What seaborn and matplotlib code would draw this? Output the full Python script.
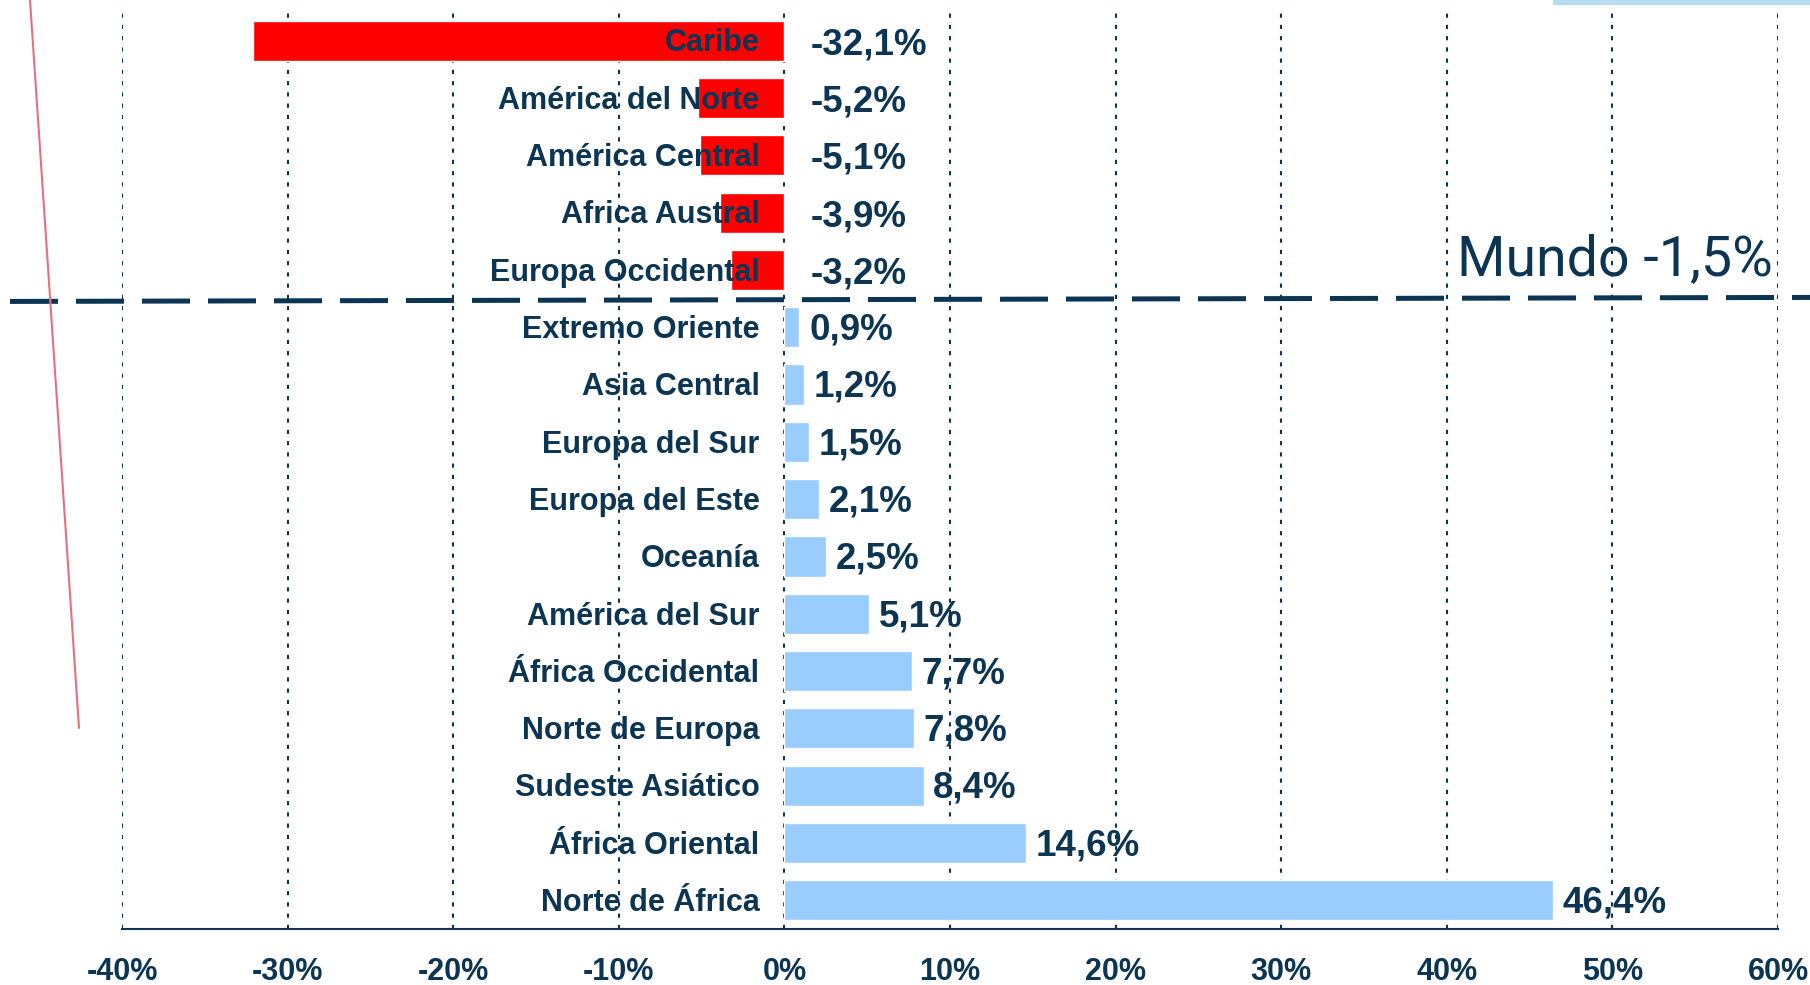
import matplotlib
matplotlib.use("Agg")
import matplotlib.pyplot as plt
import matplotlib.transforms as mtransforms
from matplotlib.lines import Line2D
from matplotlib.patches import Rectangle
import seaborn as sns

# Data (top to bottom)
regiones = ['Caribe', 'América del Norte', 'América Central', 'Africa Austral',
            'Europa Occidental', 'Extremo Oriente', 'Asia Central', 'Europa del Sur',
            'Europa del Este', 'Oceanía', 'América del Sur', 'África Occidental',
            'Norte de Europa', 'Sudeste Asiático', 'África Oriental', 'Norte de África']
variacion = [-32.1, -5.2, -5.1, -3.9, -3.2, 0.9, 1.2, 1.5, 2.1, 2.5, 5.1, 7.7,
             7.8, 8.4, 14.6, 46.4]
ticks_x = [-40, -30, -20, -10, 0, 10, 20, 30, 40, 50, 60]
mundo_texto = 'Mundo -1,5%'

navy = '#0b3552'
rojo = '#ff0000'
azul = '#99ccff'

sns.set_style('white')
plt.rcParams['font.family'] = ['Liberation Sans', 'DejaVu Sans']

fig = plt.figure(figsize=(18.1, 9.85), dpi=100)
ax = fig.add_axes([122 / 1810, 1 - 929 / 985, (1778 - 122) / 1810, (929 - 12) / 985])

colores = [rojo if v < 0 else azul for v in variacion]
sns.barplot(x=variacion, y=regiones, hue=regiones, palette=colores, legend=False,
            orient='h', width=0.7, saturation=1, ax=ax, zorder=2)

ax.set_xlim(ticks_x[0], ticks_x[-1])
ax.set_ylim(len(regiones) - 0.5, -0.5)
ax.set_xticks(ticks_x)
ax.set_xticklabels([f'{t}%' for t in ticks_x], fontsize=22, fontweight='bold', color=navy)
ax.set_yticks([])
ax.set_xlabel('')
ax.set_ylabel('')

for s in ['top', 'right', 'left']:
    ax.spines[s].set_visible(False)
ax.spines['bottom'].set_color(navy)
ax.spines['bottom'].set_linewidth(1.5)
ax.tick_params(axis='x', direction='out', length=7, width=1.5, color=navy, pad=13)

ax.set_axisbelow(True)
ax.grid(axis='x', linestyle=(0, (2, 3.4)), linewidth=1.5, color=navy)
ax.grid(axis='y', visible=False)

# category names and values
for i, (reg, v) in enumerate(zip(regiones, variacion)):
    ax.annotate(reg, xy=(0, i), xytext=(-18, -2), textcoords='offset points',
                ha='right', va='center', fontsize=22, fontweight='bold', color=navy, zorder=5)
    txt = f'{v:.1f}'.replace('.', ',') + '%'
    if v < 0:
        ax.annotate(txt, xy=(0, i), xytext=(19, -3), textcoords='offset points',
                    ha='left', va='center', fontsize=26.5, fontweight='bold', color=navy, zorder=5)
    else:
        ax.annotate(txt, xy=(v, i), xytext=(7, -2), textcoords='offset points',
                    ha='left', va='center', fontsize=26.5, fontweight='bold', color=navy, zorder=5)

# world average line between negative and positive regions
n_neg = sum(1 for v in variacion if v < 0)
tr = mtransforms.blended_transform_factory(fig.transFigure, ax.transData)
ax.plot([10 / 1810, 1.0], [n_neg - 0.45, n_neg - 0.52], transform=tr, clip_on=False,
        color=navy, linewidth=3.6, linestyle=(0, (9.6, 3.6)), zorder=6)
fig.text(1773 / 1810, 1 - 275 / 985, mundo_texto, ha='right', va='baseline',
         fontsize=40, color=navy, family=['Roboto', 'DejaVu Sans'])

# decorations from the original slide
fig.add_artist(Line2D([30 / 1810, 79 / 1810], [1.0, 1 - 728 / 985], color='#e8707c', linewidth=1.5))
fig.add_artist(Rectangle((1553 / 1810, 1 - 5 / 985), 257 / 1810, 5 / 985,
                         transform=fig.transFigure, color='#b5dcef', linewidth=0))

fig.savefig('out.png', dpi=100)
